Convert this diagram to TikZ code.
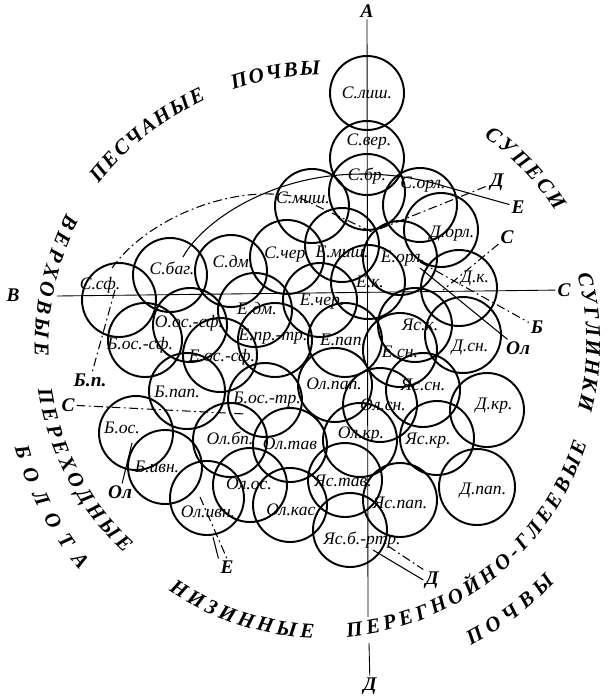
\documentclass[tikz,border=0pt]{standalone}
\usepackage{fontspec}
\setmainfont{Liberation Serif}
\usepackage{tikz}
\usetikzlibrary{decorations.text}

\newcommand\arcfont{\bfseries\itshape\fontsize{12}{12}\selectfont}

\tikzset{
  soil/.style={line width=1.1pt},
  lbl/.style={font=\itshape\fontsize{10}{10}\selectfont, inner sep=0.5pt},
  tag/.style={font=\bfseries\itshape\fontsize{11}{11}\selectfont, inner sep=1pt},
  axis/.style={line width=0.5pt},
  zoneline/.style={line width=0.6pt},
  zonedash/.style={line width=0.6pt, dash pattern=on 5pt off 2pt on 1pt off 2pt},
  arctext/.style={decorate, decoration={text along path, text align={fit to path}, text={#1}}}
}

\begin{document}
\begin{tikzpicture}[x=0.02cm, y=-0.02cm]
  \useasboundingbox (0,0) rectangle (606,696);

  % Axes
  \node[tag] (A) at (367,11) {А};
  \node[tag] (V) at (13,295) {В};
  \node[tag] (S) at (564,290) {С};
  \node[tag] (D) at (370,686) {Д};
  \coordinate (gapA) at (368,617);
  \coordinate (gapD) at (369,643);
  \coordinate (Vend) at (57,296);
  \draw[axis] (A) -- (gapA);
  \draw[axis] (gapD) -- (D);
  \draw[axis] (Vend) -- (S);

  % Sands (top)
  \draw[soil] (367,93) circle (37);  \node[lbl] (slish) at (367,93) {С.лиш.};
  \draw[soil] (367,158) circle (37); \node[lbl] (sver) at (369,142) {С.вер.};
  \draw[soil] (367,192) circle (38); \node[lbl] (sbr) at (367,176) {С.бр.};
  \draw[soil] (312,206) circle (37); \node[lbl] (smish) at (303,198) {С.миш.};
  \draw[soil] (420,205) circle (37); \node[lbl] (sorl) at (423,185) {С.орл.};
  \draw[soil] (441,230) circle (37); \node[lbl] (dorl) at (452,234) {Д.орл.};
  \draw[soil] (119,300) circle (37); \node[lbl] (ssf) at (100,285) {С.сф.};
  \draw[soil] (170,275) circle (37); \node[lbl] (sbag) at (172,268) {С.баг.};
  \draw[soil] (231,271) circle (36); \node[lbl] (sdm) at (233,262) {С.дм.};
  \draw[soil] (287,257) circle (37); \node[lbl] (scher) at (287,255) {С.чер.};

  % Sandy loams
  \draw[soil] (342,245) circle (37); \node[lbl] (emish) at (342,252) {Е.миш.};
  \draw[soil] (400,258) circle (37); \node[lbl] (eorl) at (403,259) {Е.орл.};
  \draw[soil] (368,282) circle (37); \node[lbl] (ek) at (370,282) {Е.к.};
  \draw[soil] (459,288) circle (38); \node[lbl] (dk) at (475,279) {Д.к.};
  \draw[soil] (255,310) circle (37); \node[lbl] (edm) at (257,309) {Е.дм.};
  \draw[soil] (320,300) circle (37); \node[lbl] (echer) at (322,302) {Е.чер.};
  \draw[soil] (190,325) circle (37); \node[lbl] (oossf) at (189,323) {О.ос.-сф.};
  \draw[soil] (275,340) circle (37); \node[lbl] (eprtr) at (273,337) {Е.пр.-тр.};
  \draw[soil] (345,340) circle (37); \node[lbl] (epap) at (343,340) {Е.пап.};
  \draw[soil] (415,325) circle (37); \node[lbl] (yask) at (420,325) {Яс.к.};
  \draw[soil] (145,340) circle (37); \node[lbl] (bossf) at (140,345) {Б.ос.-сф.};
  \draw[soil] (220,355) circle (37); \node[lbl] (eossf) at (222,357) {Е.ос.-сф.};
  \draw[soil] (400,350) circle (37); \node[lbl] (esn) at (400,352) {Е.сн.};
  \draw[soil] (463,335) circle (38); \node[lbl] (dsn) at (470,348) {Д.сн.};

  % Bogs and lowland soils
  \draw[soil] (187,391) circle (38); \node[lbl] (bpap) at (177,392) {Б.пап.};
  \draw[soil] (335,385) circle (37); \node[lbl] (olpap) at (334,384) {Ол.пап.};
  \draw[soil] (265,400) circle (37); \node[lbl] (bostr) at (267,400) {Б.ос.-тр.};
  \draw[soil] (380,405) circle (37); \node[lbl] (olsn) at (383,405) {Ол.сн.};
  \draw[soil] (423,390) circle (37); \node[lbl] (yassn) at (423,385) {Яс.сн.};
  \draw[soil] (487,410) circle (37); \node[lbl] (dkr) at (494,406) {Д.кр.};
  \draw[soil] (136,433) circle (37); \node[lbl] (bos) at (122,428) {Б.ос.};
  \draw[soil] (230,440) circle (37); \node[lbl] (olbp) at (230,438) {Ол.бп.};
  \draw[soil] (290,445) circle (37); \node[lbl] (oltav) at (290,444) {Ол.тав};
  \draw[soil] (360,440) circle (37); \node[lbl] (olkr) at (361,435) {Ол.кр.};
  \draw[soil] (437,438) circle (37); \node[lbl] (yaskr) at (428,441) {Яс.кр.};
  \draw[soil] (165,467) circle (37); \node[lbl] (bivn) at (157,467) {Б.ивн.};
  \draw[soil] (250,485) circle (37); \node[lbl] (olos) at (249,484) {Ол.ос.};
  \draw[soil] (345,480) circle (37); \node[lbl] (yastav) at (343,481) {Яс.тав.};
  \draw[soil] (400,500) circle (37); \node[lbl] (yaspap) at (400,503) {Яс.пап.};
  \draw[soil] (477,487) circle (38); \node[lbl] (dpap) at (483,491) {Д.пап.};
  \draw[soil] (207,498) circle (37); \node[lbl] (olivn) at (208,512) {Ол.ивн.};
  \draw[soil] (290,505) circle (37); \node[lbl] (olkas) at (293,510) {Ол.кас.};
  \draw[soil] (350,530) circle (37); \node[lbl] (yasbrtr) at (362,540) {Яс.б.-ртр.};

  % Zone ends
  \node[tag] (Dtop) at (497,182) {Д};
  \node[tag] (Etop) at (518,207) {Е};
  \node[tag] (Stop) at (507,237) {С};
  \node[tag] (Bright) at (537,327) {Б};
  \node[tag] (Olright) at (518,348) {Ол};
  \node[tag] (Bp) at (90,380) {Б.п.};
  \node[tag] (Sleft) at (68,405) {С};
  \node[tag] (Olleft) at (120,492) {Ол};
  \node[tag] (Ebot) at (227,567) {Е};
  \node[tag] (Dbot) at (432,580) {Д};

  % Zone lines
  \draw[zonedash] (112,268) .. controls (150,215) and (240,182) .. (300,198) -- (372,232) -- (Dtop);
  \draw[zoneline] (Etop) -- (447,187) .. controls (400,172) and (330,165) .. (263,194)
    .. controls (225,210) and (195,235) .. (183,257);
  \draw[zonedash] (Stop) -- (443,290);
  \draw[zonedash] (420,262) -- (Bright);
  \draw[zoneline] (420,268) -- (Olright);
  \draw[zonedash] (115,290) -- (Bp);
  \draw[zonedash] (Sleft) -- (245,414);
  \draw[zoneline] (132,443) -- (Olleft);
  \draw[zoneline] (213,537) -- (Ebot.north west);
  \draw[zonedash] (200,497) -- (Ebot.north);
  \draw[zoneline] (373,550) -- (Dbot.west);
  \draw[zonedash] (388,546) -- (Dbot.north west);

  % Soil group names
  \path[arctext={|\arcfont|ПЕСЧАНЫЕ{\kern1.2em}ПОЧВЫ}]
    plot[domain=141.5:90.5, samples=40, variable=\t] ({323+287*cos(\t)},{362-287*sin(\t)});
  \path[arctext={|\arcfont|СУПЕСИ}]
    plot[domain=54.5:33, samples=20, variable=\t] ({323+277*cos(\t)},{362-277*sin(\t)});
  \path[arctext={|\arcfont|СУГЛИНКИ}]
    plot[domain=19:-10.5, samples=30, variable=\t] ({323+(259+10*(\t+11)/30)*cos(\t)},{362-(259+10*(\t+11)/30)*sin(\t)});
  \path[arctext={|\arcfont|ВЕРХОВЫЕ{\kern1.2em}ПЕРЕХОДНЫЕ}]
    plot[domain=150:224, samples=50, variable=\t] ({323+(296-20*(\t-151)/72)*cos(\t)},{362-(296-20*(\t-151)/72)*sin(\t)});
  \path[arctext={|\arcfont|БОЛОТА}]
    plot[domain=195.5:220.5, samples=20, variable=\t] ({323+320*cos(\t)},{362-320*sin(\t)});
  \path[arctext={|\arcfont|НИЗИННЫЕ{\kern1.2em}ПЕРЕГНОЙНО-ГЛЕЕВЫЕ}]
    plot[domain=-124:-17, samples=80, variable=\t] ({323+276*cos(\t)},{362-276*sin(\t)});
  \path[arctext={|\arcfont|ПОЧВЫ}]
    plot[domain=-62.5:-43.5, samples=20, variable=\t] ({323+320*cos(\t)},{362-320*sin(\t)});
\end{tikzpicture}
\end{document}
